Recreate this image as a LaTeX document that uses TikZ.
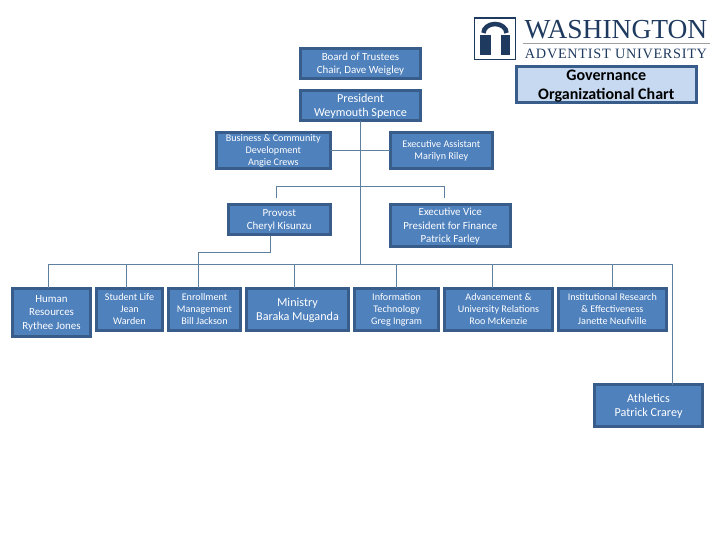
\documentclass[tikz,border=0pt]{standalone}
\usepackage{fontspec}
\setmainfont{Carlito}
\newfontfamily\logofont{Liberation Serif}
\newfontfamily\logospaced[LetterSpace=5]{Liberation Serif}
\definecolor{boxfill}{HTML}{4F81BD}
\definecolor{boxedge}{HTML}{385D8A}
\definecolor{linkcol}{HTML}{5F7F9E}
\definecolor{govfill}{HTML}{C6D9F1}
\definecolor{logonavy}{HTML}{1F3A5F}
\tikzset{every picture/.style={line width=0.75pt}}
\tikzset{
  orgbox/.style={draw=boxedge,fill=boxfill,line width=2.25pt,text=white,align=center,inner sep=0pt,outer sep=0pt,text depth=0pt},
  smalltext/.style={orgbox,font=\fontsize{7.6}{9}\selectfont},
  midtext/.style={orgbox,font=\fontsize{8.2}{10}\selectfont},
  bigtext/.style={orgbox,font=\fontsize{9.1}{10.5}\selectfont},
  link/.style={draw=linkcol,line width=0.75pt},
}

\begin{document}
\begin{tikzpicture}[x=0.75pt,y=0.75pt,yscale=-1,xscale=1]
\useasboundingbox (0,0) rectangle (720,540);

% Logo
\draw [logonavy,fill=white,line width=0.9pt] (474.5,18) rectangle (515.5,59.5);
\draw [logonavy,line width=3.4pt] (483.5,33) arc [start angle=180,end angle=360,x radius=11.5,y radius=9];
\fill [logonavy] (480,34.5) rectangle (490.5,55);
\fill [logonavy] (500.5,34.5) rectangle (510,55);
\node [inner sep=0pt,text=logonavy,font=\logofont\fontsize{20.6}{22}\selectfont] (wordmark) at (616,30) {WASHINGTON};
\draw [color=gray!75,line width=1.1pt] (523,43.5) -- (710,43.5);
\node [inner sep=0pt,text=logonavy,font=\logospaced\fontsize{10.7}{12}\selectfont] (subword) at (616,54) {ADVENTIST UNIVERSITY};

% Text Node
\node [orgbox,fill=govfill,text=black,minimum width=135pt,minimum height=27pt,text depth=-1pt,font=\bfseries\fontsize{12}{14.25}\selectfont] (gov) at (606.3,84.3) {Governance\\Organizational Chart};

% Text Node
\node [midtext,minimum width=90pt,minimum height=22.5pt] (board) at (360.5,63.5) {Board of Trustees\\Chair, Dave Weigley};
% Text Node
\node [bigtext,minimum width=90pt,minimum height=22.5pt] (pres) at (360.5,105.5) {President\\Weymouth Spence};
% Text Node
\node [smalltext,minimum width=85.5pt,minimum height=27pt] (bcd) at (273.3,150.3) {Business \& Community\\Development\\Angie Crews};
% Text Node
\node [smalltext,minimum width=76.5pt,minimum height=27pt] (asst) at (441.3,150.3) {Executive Assistant\\Marilyn Riley};
% Text Node
\node [midtext,minimum width=76.5pt,minimum height=22.5pt] (provost) at (279.3,219.5) {Provost\\Cheryl Kisunzu};
% Text Node
\node [midtext,minimum width=90pt,minimum height=31.5pt] (evp) at (450.3,225.3) {Executive Vice\\President for Finance\\Patrick Farley};
% Text Node
\node [midtext,minimum width=58.5pt,minimum height=36pt] (hr) at (51.5,312.2) {Human\\Resources\\Rythee Jones};
% Text Node
\node [smalltext,minimum width=49.5pt,minimum height=31.5pt] (life) at (129.5,309.2) {Student Life\\Jean\\Warden};
% Text Node
\node [smalltext,minimum width=54pt,minimum height=31.5pt] (enroll) at (204.5,309.2) {Enrollment\\Management\\Bill Jackson};
% Text Node
\node [bigtext,minimum width=76.5pt,minimum height=31.5pt] (ministry) at (297.5,309.2) {Ministry\\Baraka Muganda};
% Text Node
\node [smalltext,minimum width=63pt,minimum height=31.5pt] (tech) at (396.6,309.2) {Information\\Technology\\Greg Ingram};
% Text Node
\node [smalltext,minimum width=81pt,minimum height=31.5pt] (adv) at (498.5,309.2) {Advancement \&\\University Relations\\Roo McKenzie};
% Text Node
\node [smalltext,minimum width=81pt,minimum height=31.5pt] (inst) at (612.3,309.2) {Institutional Research\\\& Effectiveness\\Janette Neufville};
% Text Node
\node [bigtext,minimum width=81pt,minimum height=31.5pt] (athl) at (648.5,405.5) {Athletics\\Patrick Crarey};

% Connection
\coordinate (trunkend) at (360.5,264.5);
\coordinate (midtrunk) at (360.5,186.5);
\coordinate (provtop) at (276.5,198);
\coordinate (evptop) at (444.5,198);
\coordinate (provout) at (270.5,236);
\coordinate (provturn) at (198.5,252.5);
\coordinate (railleft) at (48.5,264.5);
\coordinate (railright) at (672.5,264.5);
\draw [link] (pres.south -| trunkend) -- (trunkend);
\draw [link] ([yshift=-0.15pt]bcd.east) -- ([yshift=-0.15pt]asst.west);
% Connection
\draw [link] (provtop) |- (evptop |- midtrunk) -- (evptop);
% Connection
\draw [link] (provout) |- (provturn) -- (provturn |- enroll.north);
% Connection
\draw [link] (hr.north -| railleft) -- (railleft) -- (railright) -- (railright |- athl.north);
% Connection
\foreach \boxname/\offset in {life/-2.25pt,ministry/-2.25pt,tech/-0.1pt,adv/-4.5pt,inst/0.15pt}
  \draw [link] ([xshift=\offset]\boxname.north) -- ([xshift=\offset]\boxname.north |- trunkend);

\end{tikzpicture}
\end{document}
